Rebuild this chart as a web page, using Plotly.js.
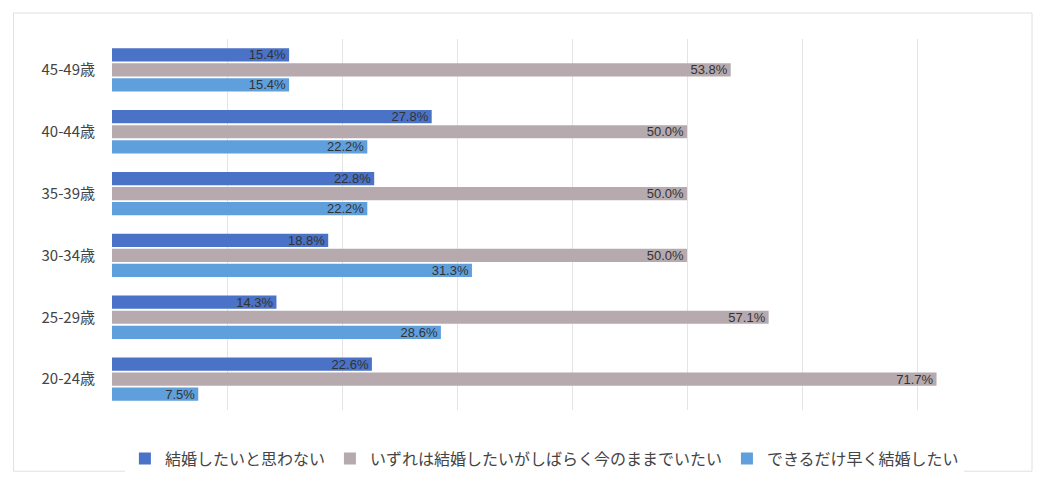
<!DOCTYPE html>
<html>
<head>
<meta charset="utf-8">
<script src="https://cdn.plot.ly/plotly-3.0.1.min.js"></script>
<style>html,body{margin:0;padding:0;background:#fff;}#chart{width:1039px;height:483px;}</style>
</head>
<body>
<div id="chart"></div>
<script>
const categories = ["20-24歳", "25-29歳", "30-34歳", "35-39歳", "40-44歳", "45-49歳"];
const seriesNames = ["結婚したいと思わない", "いずれは結婚したいがしばらく今のままでいたい", "できるだけ早く結婚したい"];
const notWant = [22.6, 14.3, 18.8, 22.8, 27.8, 15.4];
const someday = [71.7, 57.1, 50.0, 50.0, 50.0, 53.8];
const asap = [7.5, 28.6, 31.3, 22.2, 22.2, 15.4];
const colors = ["#4a72c6", "#b7aaaf", "#5f9fdc"];

const seriesData = [notWant, someday, asap];
// Plotly draws grouped horizontal bars bottom-to-top in trace order; reverse to put first series on top
const traces = [2, 1, 0].map(i => ({
  type: "bar",
  orientation: "h",
  name: seriesNames[i],
  y: categories,
  x: seriesData[i],
  marker: {color: colors[i]},
  text: seriesData[i].map(v => v.toFixed(1) + "%"),
  textposition: "inside",
  insidetextanchor: "end",
  textfont: {color: "#333", size: 13, family: "Liberation Sans, Arial, sans-serif"},
  constraintext: "none",
  legendrank: i + 1,
  hoverinfo: "skip"
}));

const layout = {
  width: 1039, height: 483,
  margin: {l: 112, r: 7, t: 39, b: 69},
  barmode: "group",
  bargap: 0.27,
  bargroupgap: 0.12,
  paper_bgcolor: "#fff",
  plot_bgcolor: "#fff",
  font: {family: "Noto Sans CJK JP, sans-serif", color: "#444"},
  showlegend: true,
  legend: {orientation: "h", x: 0.47, xanchor: "center", xref: "paper", y: -0.085, yanchor: "top",
    font: {size: 16, color: "#444"}, traceorder: "normal", itemwidth: 30, itemsizing: "constant"},
  xaxis: {range: [0, 80], dtick: 10, showticklabels: false, showgrid: true, gridcolor: "#e4e4e4",
    zeroline: false, showline: false, ticks: ""},
  yaxis: {type: "category", showgrid: false, zeroline: false, showline: false,
    tickfont: {size: 15, color: "#444"}, ticks: "", ticklen: 0, ticklabelstandoff: 16, automargin: false},
  shapes: [{type: "rect", xref: "paper", yref: "paper", x0: -0.107, x1: 1.0, y0: -0.165, y1: 1.07,
    line: {color: "#e0e0e0", width: 1}, fillcolor: "rgba(0,0,0,0)"}]
};

Plotly.newPlot("chart", traces, layout, {displayModeBar: false, staticPlot: true});
</script>
</body>
</html>
